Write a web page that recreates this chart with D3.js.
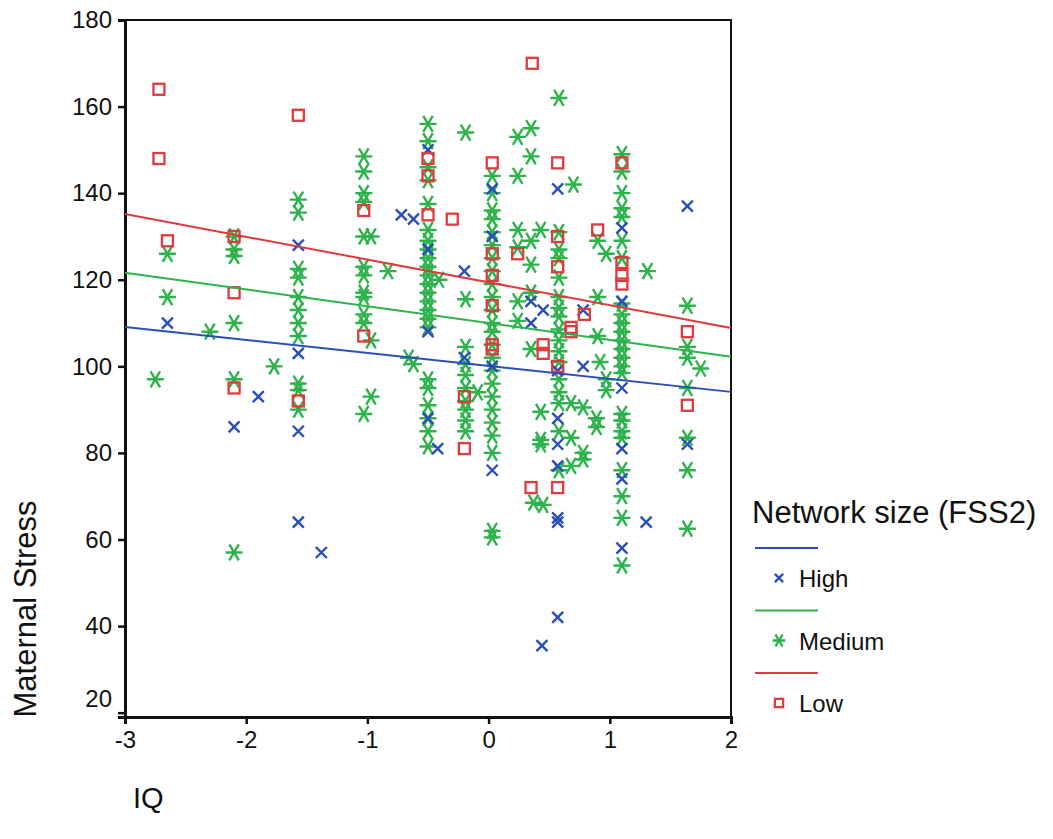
<!DOCTYPE html>
<html>
<head>
<meta charset="utf-8">
<script src="https://cdn.jsdelivr.net/npm/d3@7"></script>
<style>
  body { margin: 0; background: #fff; }
  text { font-family: "Liberation Sans", Arial, sans-serif; fill: #111; }
</style>
</head>
<body>
<svg id="chart" width="1053" height="839"></svg>
<script>
// groups of network size, in legend order
var groups = ["High", "Medium", "Low"];
var colors = ["#2b4fb8", "#2eb34c", "#e0393e"];

// fitted lines: value at IQ = 0 and slope
var fitIntercepts = [100.1, 110.0, 119.4];
var fitSlopes = [-3.0, -3.88, -5.26];

var xTicks = [-3, -2, -1, 0, 1, 2];
var yTicks = [20, 40, 60, 80, 100, 120, 140, 160, 180];

// [IQ, maternal stress]
var highPoints = [
  [-2.65,110],[-2.1,86],[-1.9,93],[-1.57,128],[-1.57,103],[-1.57,85],[-1.57,64],[-1.38,57],
  [-0.72,135],[-0.62,134],[-0.5,150],[-0.5,127],[-0.5,108],[-0.5,88],[-0.42,81],[-0.2,122],
  [-0.2,102],[0.03,141],[0.03,130],[0.03,100],[0.03,76],[0.35,115],[0.45,113],[0.35,110],
  [0.44,35.5],[0.57,141],[0.57,99],[0.57,88],[0.57,82],[0.57,77],[0.57,65],[0.57,64],
  [0.57,42],[0.78,113],[0.78,100],[1.1,132],[1.1,115],[1.1,95],[1.1,81],[1.1,74],[1.1,58],
  [1.3,64],[1.64,137],[1.64,82]
];

var mediumPoints = [
  [-2.75,97],[-2.65,126],[-2.65,116],[-2.3,108],
  [-2.1,130],[-2.1,127],[-2.1,125.5],[-2.1,110],[-2.1,97],[-2.1,57],[-1.77,100],
  [-1.57,138.5],[-1.57,135.5],[-1.57,122.5],[-1.57,120.5],[-1.57,116],[-1.57,113],[-1.57,110],
  [-1.57,107],[-1.57,96],[-1.57,94.5],[-1.57,90],
  [-1.03,148.5],[-1.03,145],[-1.03,140],[-1.03,138],[-1.03,130],[-1.03,123],[-1.03,121],
  [-1.03,117],[-1.03,116],[-1.03,112],[-1.03,110],[-1.03,89],
  [-0.97,130],[-0.97,106],[-0.97,93],[-0.83,122],[-0.66,102],[-0.62,100.5],
  [-0.5,156],[-0.5,152],[-0.5,146],[-0.5,143],[-0.5,137.5],[-0.5,131.5],[-0.5,129],[-0.5,127],
  [-0.5,125],[-0.5,123],[-0.5,121],[-0.5,119],[-0.5,117],[-0.5,115],[-0.5,113],[-0.5,111],
  [-0.5,109],[-0.5,97],[-0.5,95],[-0.5,91],[-0.5,88],[-0.5,85],[-0.5,81.5],[-0.41,120],
  [-0.19,154],[-0.19,115.5],[-0.19,104.5],[-0.19,100.5],[-0.19,98],[-0.19,95],[-0.19,92],
  [-0.19,90],[-0.19,87.5],[-0.19,85],[-0.09,94],
  [0.03,144],[0.03,140],[0.03,136],[0.03,134],[0.03,131],[0.03,128],[0.03,125],[0.03,122],
  [0.03,119],[0.03,116],[0.03,113],[0.03,110],[0.03,108],[0.03,105],[0.03,102],[0.03,99],
  [0.03,96],[0.03,93],[0.03,90],[0.03,87],[0.03,84],[0.03,80],[0.03,62],[0.03,60.5],
  [0.24,153],[0.24,144],[0.24,131.5],[0.24,127.5],[0.24,115],[0.24,110.5],
  [0.35,155],[0.35,148.5],[0.35,123.5],[0.35,117],[0.35,129],[0.35,104],[0.37,68.5],
  [0.43,131.5],[0.43,89.5],[0.43,83],[0.43,82],[0.45,68],
  [0.58,162],[0.58,131],[0.58,127],[0.58,125],[0.58,120.5],[0.58,116],[0.58,113.5],[0.58,111.5],
  [0.58,108.5],[0.58,106],[0.58,103.5],[0.58,101],[0.58,97],[0.58,94],[0.58,91.5],[0.58,85],
  [0.58,76],[0.68,91.5],[0.68,83.5],[0.68,77],[0.7,142],[0.78,90.5],[0.78,80],[0.78,78.5],
  [0.89,88],[0.89,86],[0.9,116],[0.9,107],[0.9,129],[0.97,126],[0.97,97],[0.97,94.5],[0.92,101],
  [1.1,149],[1.1,145],[1.1,140],[1.1,136.5],[1.1,134.5],[1.1,129],[1.1,125],[1.1,114.5],
  [1.1,112],[1.1,110],[1.1,108],[1.1,106],[1.1,104],[1.1,102],[1.1,100],[1.1,98.5],[1.1,89],
  [1.1,87.5],[1.1,85],[1.1,83.5],[1.1,76],[1.1,70],[1.1,65],[1.1,54],[1.31,122],
  [1.64,114],[1.64,104.5],[1.64,102],[1.64,95],[1.64,83.5],[1.64,76],[1.64,62.5],[1.75,99.5]
];

var lowPoints = [
  [-2.72,164],[-2.72,148],[-2.65,129],[-2.1,130],[-2.1,117],[-2.1,95],[-1.57,158],[-1.57,92],
  [-1.03,136],[-1.03,107],[-0.5,148],[-0.5,144],[-0.5,135],[-0.3,134],[-0.2,93],[-0.2,81],
  [0.03,147],[0.03,126],[0.03,121],[0.03,114],[0.03,105],[0.03,104],[0.24,126],[0.36,170],
  [0.35,72],[0.45,105],[0.45,103],[0.57,147],[0.57,130],[0.57,123],[0.57,100],[0.57,72],
  [0.68,109],[0.68,108],[0.79,112],[0.9,131.5],[1.1,147],[1.1,124],[1.1,121],[1.1,119],
  [1.64,108],[1.64,91]
];

var svg = d3.select("#chart");

var x = d3.scaleLinear().domain([-3, 2]).range([125, 731]);
var y = d3.scaleLinear().domain([19, 180]).range([717, 20]);

// frame (top and right)
svg.append("path")
  .attr("d", "M" + x(-3) + "," + y(180) + "H" + x(2) + "V" + y(19))
  .attr("fill", "none").attr("stroke", "#111").attr("stroke-width", 2);

// axes
var yAxis = d3.axisLeft(y).tickValues(yTicks).tickSize(7).tickPadding(6);
var xAxis = d3.axisBottom(x).tickValues(xTicks).tickSize(7).tickPadding(4)
  .tickFormat(function(d){ return String(d); });

var gy = svg.append("g").attr("transform", "translate(" + x(-3) + ",0)").call(yAxis);
var gx = svg.append("g").attr("transform", "translate(0," + y(19) + ")").call(xAxis);

[gx, gy].forEach(function(g){
  g.select(".domain").attr("stroke", "#111").attr("stroke-width", 3);
  g.selectAll(".tick line").attr("stroke", "#111").attr("stroke-width", 2.5);
  g.selectAll(".tick text").style("font-size", "24px").attr("fill", "#111");
});
// lift the lowest y label clear of the x axis
gy.selectAll(".tick text").filter(function(d){ return d == 20; }).attr("dy", "-0.25em");
gx.selectAll(".tick text").attr("dy", "0.85em");

// axis titles
svg.append("text")
  .attr("transform", "translate(36,609) rotate(-90)")
  .attr("text-anchor", "middle")
  .style("font-size", "31px")
  .text("Maternal Stress");

svg.append("text")
  .attr("x", 133).attr("y", 808)
  .style("font-size", "29px")
  .text("IQ");

// markers
var pointSets = [highPoints, mediumPoints, lowPoints];

function drawMarker(g, type, color, s){
  if (type == "High") {
    g.append("path").attr("d", "M-5.5,-5.5L5.5,5.5M-5.5,5.5L5.5,-5.5")
      .attr("transform", "scale(" + s + ")")
      .attr("stroke", color).attr("stroke-width", 2.4 / s).attr("fill", "none");
  } else if (type == "Medium") {
    g.append("path").attr("d", "M-8.5,0L8.5,0M-4.8,-8L4.8,8M-4.8,8L4.8,-8")
      .attr("transform", "scale(" + s + ")")
      .attr("stroke", color).attr("stroke-width", 2.4 / s).attr("fill", "none");
  } else {
    g.append("rect").attr("x", -5.5).attr("y", -5.5).attr("width", 11).attr("height", 11)
      .attr("transform", "scale(" + s + ")")
      .attr("stroke", color).attr("stroke-width", 2.3 / s).attr("fill", "none");
  }
}

var plot = svg.append("g");

// draw medium first, then high and low on top
[1, 0, 2].forEach(function(i){
  plot.selectAll(".m" + i)
    .data(pointSets[i])
    .enter().append("g")
    .attr("class", "m" + i)
    .attr("transform", function(d){ return "translate(" + x(d[0]) + "," + y(d[1]) + ")"; })
    .each(function(){ drawMarker(d3.select(this), groups[i], colors[i], 1); });
});

// fit lines
groups.forEach(function(grp, i){
  var f = function(v){ return fitIntercepts[i] + fitSlopes[i] * v; };
  svg.append("line")
    .attr("x1", x(-3)).attr("y1", y(f(-3)))
    .attr("x2", x(2)).attr("y2", y(f(2)))
    .attr("stroke", colors[i]).attr("stroke-width", 2);
});

// legend
var legend = svg.append("g");
legend.append("text")
  .attr("x", 752).attr("y", 523)
  .style("font-size", "31px")
  .text("Network size (FSS2)");

groups.forEach(function(grp, i){
  var top = 548 + i * 62.5;
  legend.append("line")
    .attr("x1", 755).attr("x2", 818).attr("y1", top).attr("y2", top)
    .attr("stroke", colors[i]).attr("stroke-width", 2);
  var m = legend.append("g").attr("transform", "translate(779," + (top + 30) + ")");
  drawMarker(m, grp, colors[i], 0.75);
  legend.append("text")
    .attr("x", 799).attr("y", top + 39)
    .style("font-size", "24px")
    .text(grp);
});
</script>
</body>
</html>
